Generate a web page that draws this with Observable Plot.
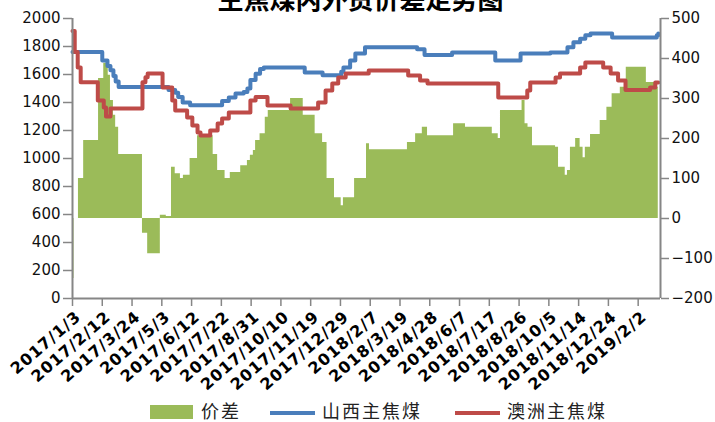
<!DOCTYPE html>
<html><head><meta charset="utf-8">
<script src="https://cdn.jsdelivr.net/npm/d3@7"></script>
<script src="https://cdn.jsdelivr.net/npm/@observablehq/plot@0.6"></script>
<style>
body{margin:0;background:#fff;}
#wrap{position:relative;width:715px;height:422px;overflow:hidden;background:#fff}
#chart svg{display:block}
.lg{position:absolute;font-family:"Noto Sans CJK SC",sans-serif;font-size:18px;letter-spacing:2px;color:#222;line-height:20px}
.sw{position:absolute}
.xlab text{letter-spacing:1px}
</style></head><body>
<div id="wrap"><div id="chart"></div>
<div class="sw" style="left:150px;top:405px;width:43px;height:14px;background:#9BBB59"></div>
<div class="lg" style="left:201px;top:400px">价差</div>
<div class="sw" style="left:270px;top:411px;width:45px;height:4px;background:#4A7EBB"></div>
<div class="lg" style="left:322px;top:400px">山西主焦煤</div>
<div class="sw" style="left:455px;top:411px;width:45px;height:4px;background:#BE4B48"></div>
<div class="lg" style="left:507px;top:400px">澳洲主焦煤</div>
</div>
<script>
const title = "主焦煤内外贸价差走势图";
const seriesNames = ["价差", "山西主焦煤", "澳洲主焦煤"];

const tickLabels = ["2017/1/3","2017/2/12","2017/3/24","2017/5/3","2017/6/12","2017/7/22","2017/8/31","2017/10/10","2017/11/19","2017/12/29","2018/2/7","2018/3/19","2018/4/28","2018/6/7","2018/7/17","2018/8/26","2018/10/5","2018/11/14","2018/12/24","2019/2/2"];
const leftTicks = [0,200,400,600,800,1000,1200,1400,1600,1800,2000];
const rightTicks = [-200,-100,0,100,200,300,400,500];

const shanxiDates = ["2017-01-03","2017-02-12","2017-02-19","2017-02-23","2017-02-27","2017-03-02","2017-03-06","2017-05-12","2017-05-21","2017-05-25","2017-05-31","2017-06-10","2017-07-23","2017-08-01","2017-08-10","2017-08-21","2017-08-26","2017-08-30","2017-09-06","2017-09-12","2017-09-17","2017-11-11","2017-12-05","2017-12-30","2018-01-02","2018-01-11","2018-01-18","2018-01-31","2018-04-11","2018-04-21","2018-05-28","2018-07-25","2018-08-28","2018-10-07","2018-10-30","2018-11-07","2018-11-16","2018-11-23","2018-11-30","2018-12-29","2019-02-27","2019-03-01"];
const shanxiValues = [1760,1700,1660,1630,1590,1550,1510,1490,1470,1440,1400,1380,1410,1435,1465,1475,1500,1560,1605,1640,1650,1615,1595,1620,1650,1700,1750,1795,1780,1740,1757,1700,1750,1757,1795,1830,1855,1880,1893,1865,1880,1893];

const ausDates = ["2017-01-03","2017-01-06","2017-01-10","2017-01-14","2017-02-06","2017-02-14","2017-02-17","2017-02-23","2017-04-07","2017-04-11","2017-04-14","2017-05-04","2017-05-17","2017-05-21","2017-06-06","2017-06-13","2017-06-20","2017-06-24","2017-07-07","2017-07-17","2017-07-23","2017-08-01","2017-08-30","2017-09-06","2017-09-22","2017-10-23","2017-11-29","2017-12-09","2017-12-18","2017-12-26","2018-01-05","2018-02-05","2018-03-30","2018-04-15","2018-04-25","2018-07-29","2018-09-06","2018-09-10","2018-10-14","2018-10-20","2018-11-16","2018-11-23","2018-12-17","2018-12-27","2019-01-06","2019-01-16","2019-02-18","2019-02-25","2019-03-01"];
const ausValues = [1910,1760,1650,1545,1415,1365,1300,1357,1545,1580,1607,1507,1414,1343,1293,1236,1186,1164,1200,1250,1286,1329,1414,1440,1379,1357,1400,1486,1536,1579,1607,1629,1593,1557,1536,1436,1486,1543,1579,1607,1650,1686,1650,1607,1557,1490,1507,1543,1543];

const spreadDates = ["2017-01-03","2017-01-05","2017-01-11","2017-01-18","2017-02-07","2017-02-14","2017-02-20","2017-02-23","2017-02-27","2017-03-02","2017-03-06","2017-04-07","2017-04-14","2017-05-01","2017-05-09","2017-05-16","2017-05-21","2017-05-28","2017-06-01","2017-06-10","2017-06-20","2017-07-11","2017-07-17","2017-07-27","2017-08-03","2017-08-17","2017-08-26","2017-08-30","2017-09-03","2017-09-06","2017-09-12","2017-09-19","2017-09-23","2017-10-23","2017-11-09","2017-11-25","2017-12-05","2017-12-11","2017-12-21","2017-12-30","2018-01-02","2018-01-17","2018-02-02","2018-02-06","2018-03-29","2018-04-09","2018-04-18","2018-04-25","2018-05-30","2018-06-15","2018-07-21","2018-07-29","2018-08-01","2018-08-30","2018-09-03","2018-09-07","2018-09-13","2018-10-14","2018-10-18","2018-10-27","2018-10-30","2018-11-03","2018-11-10","2018-11-16","2018-11-20","2018-11-23","2018-11-30","2018-12-13","2018-12-22","2018-12-29","2019-01-09","2019-01-17","2019-02-13","2019-02-28","2019-03-01"];
const spreadValues = [-150,0,100,195,350,388,358,295,258,228,160,-37,-88,8,5,128,112,100,108,150,207,160,120,100,115,132,145,158,170,195,212,253,270,300,258,212,190,100,52,32,52,100,187,172,190,212,228,207,237,228,212,200,270,295,237,228,182,178,128,108,120,178,200,178,152,178,210,245,278,312,328,378,340,328,328];

const parseISO = d3.utcParse("%Y-%m-%d");
const parseTick = d3.utcParse("%Y/%m/%d");
const tickDates = tickLabels.map(parseTick);
const xStart = parseISO("2017-01-03"), xEnd = parseISO("2019-03-04");

const shanxi = shanxiDates.map((d, i) => ({date: parseISO(d), value: shanxiValues[i]}));
const aus = ausDates.map((d, i) => ({date: parseISO(d), value: ausValues[i]}));
const spread = spreadDates.map((d, i) => ({date: parseISO(d), value: spreadValues[i]}));

// right axis (-200..500) mapped onto left axis (0..2000)
const toLeft = v => (v + 200) * 2000 / 700;
const fromLeft = y => Math.round(y * 700 / 2000 - 200);
const fmt = v => v < 0 ? "\u2212" + (-v) : String(v);
const labelMap = new Map(tickDates.map((d, i) => [+d, tickLabels[i]]));

const grey = "#868686";
const chart = Plot.plot({
  width: 715, height: 400,
  marginLeft: 72, marginRight: 55, marginTop: 18, marginBottom: 102,
  style: {background: "#fff", color: "#000"},
  x: {type: "utc", domain: [xStart, xEnd]},
  y: {domain: [0, 2000]},
  marks: [
    Plot.areaY(spread, {x: "date", y1: toLeft(0), y2: d => toLeft(d.value), curve: "step-after", fill: "#9BBB59"}),
    Plot.line(shanxi, {x: "date", y: "value", curve: "step-after", stroke: "#4A7EBB", strokeWidth: 4}),
    Plot.line(aus, {x: "date", y: "value", curve: "step-after", stroke: "#BE4B48", strokeWidth: 4}),
    Plot.ruleX([xStart], {stroke: grey, strokeWidth: 2}),
    Plot.ruleX([xEnd], {stroke: grey, strokeWidth: 2}),
    Plot.ruleY([0], {stroke: grey, strokeWidth: 2}),
    Plot.axisY(leftTicks, {anchor: "left", label: null, tickSize: 9, tickPadding: 3, stroke: grey, strokeWidth: 1.5, fill: "#111", fontSize: 15, fontFamily: "DejaVu Sans", tickFormat: d => String(d)}),
    Plot.axisY(rightTicks.map(toLeft), {anchor: "right", label: null, tickSize: 8, tickPadding: 3, stroke: grey, strokeWidth: 1.5, fill: "#111", fontSize: 15, fontFamily: "DejaVu Sans", tickFormat: d => fmt(fromLeft(d))}),
    Plot.axisX(tickDates, {anchor: "bottom", label: null, tickSize: 8, tickPadding: 2, stroke: grey, strokeWidth: 1.5, ticks: tickDates, text: null}),
    Plot.axisX(tickDates, {anchor: "bottom", label: null, tickSize: 0, tickPadding: 2, tickRotate: -41, dx: 6, dy: 14, fill: "#000", fontSize: 16, fontWeight: "bold", fontFamily: "DejaVu Sans", className: "xlab", tickFormat: d => labelMap.get(+d)}),
    Plot.text([title], {frameAnchor: "top", dy: -18, dx: -6, lineAnchor: "middle", fontSize: 26, fontWeight: "bold", fontFamily: "Noto Sans CJK SC", fill: "#000"})
  ]
});
document.getElementById("chart").appendChild(chart);
</script>
</body></html>
